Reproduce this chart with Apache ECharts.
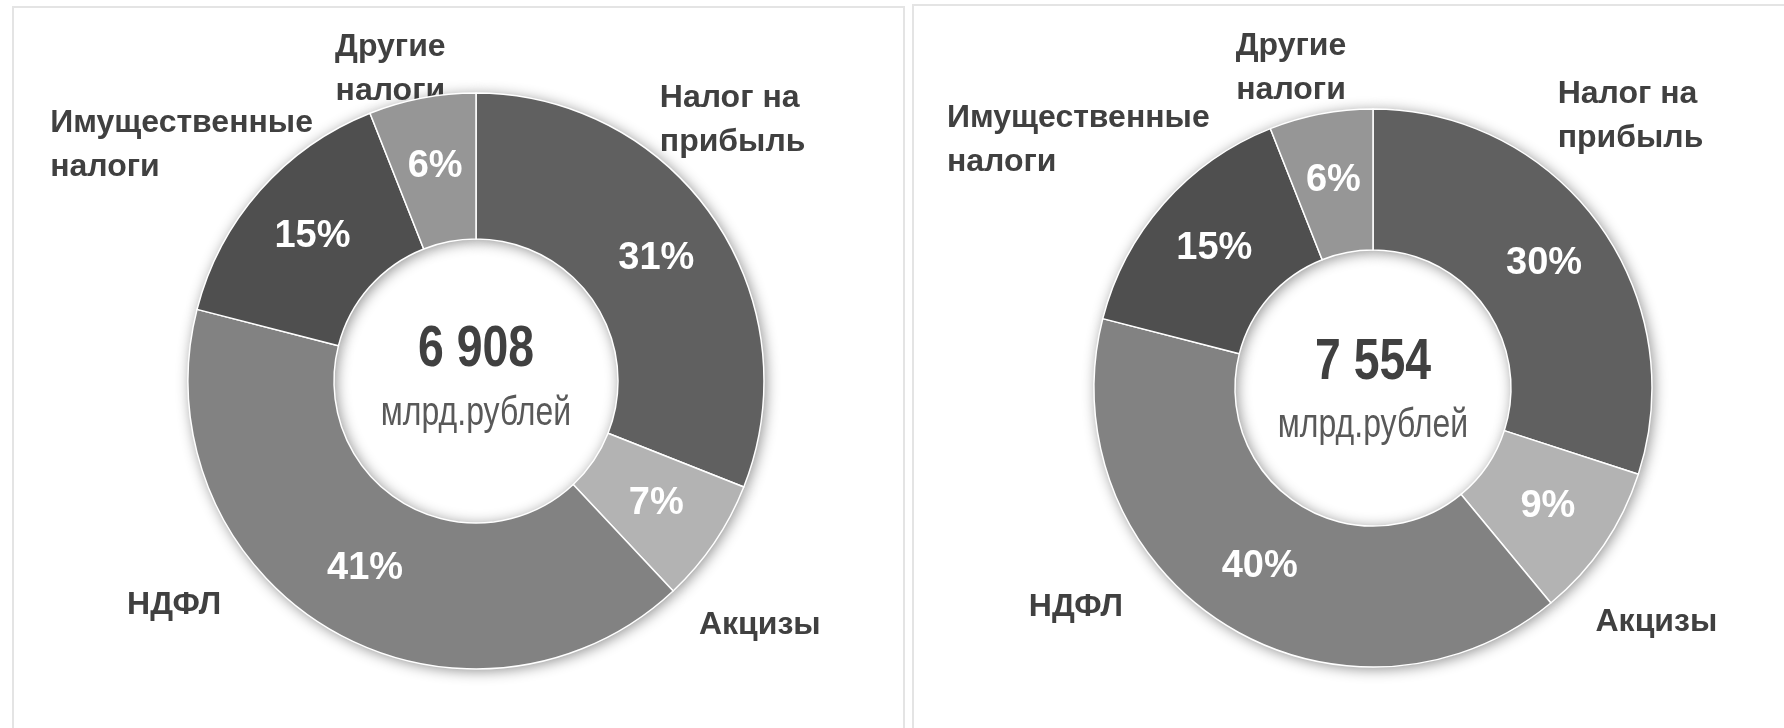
<!DOCTYPE html>
<html>
<head>
<meta charset="utf-8">
<script src="https://cdn.jsdelivr.net/npm/echarts@6/dist/echarts.min.js"></script>
<style>
  html, body { margin: 0; padding: 0; background: #ffffff; }
  #chart { width: 1784px; height: 728px; }
</style>
</head>
<body>
<div id="chart"></div>
<script>
// ---- data ----
const categories = ['Налог на\nприбыль', 'Акцизы', 'НДФЛ', 'Имущественные\nналоги', 'Другие\nналоги'];
const sharesLeft = [31, 7, 41, 15, 6];
const sharesRight = [30, 9, 40, 15, 6];
const totals = [6908, 7554];
const totalUnit = 'млрд.рублей';

// ---- styles / layout ----
const sliceColors = ['#606060', '#b3b3b3', '#828282', '#4f4f4f', '#969696'];
const nameAlign = ['left', 'center', 'center', 'left', 'center'];
const panels = [
  { center: [476, 381], rIn: 142, rOut: 288, shares: sharesLeft, total: totals[0],
    nameOffsets: [[-128, -49], [-28, 32], [-110, -100], [-143, 13], [-15, 58]],
    titleDy: [-31, 33] },
  { center: [1373, 388], rIn: 138, rOut: 279, shares: sharesRight, total: totals[1],
    nameOffsets: [[-113, -56], [-21, 27], [-100, -92], [-150, -4], [-13, 42]],
    titleDy: [-25, 38] }
];

function fmtTotal(n) { return String(n).replace(/\B(?=(\d{3})+(?!\d))/g, ' '); }

const chart = echarts.init(document.getElementById('chart'), null, { renderer: 'canvas' });

const series = [];
const graphics = [
  { type: 'rect', shape: { x: 13, y: 7, width: 891, height: 740 }, style: { fill: 'none', stroke: '#e4e4e4', lineWidth: 2 }, silent: true, z: -10 },
  { type: 'rect', shape: { x: 913, y: 5, width: 900, height: 740 }, style: { fill: 'none', stroke: '#e4e4e4', lineWidth: 2 }, silent: true, z: -10 }
];

panels.forEach((p, pi) => {
  const data = categories.map((c, i) => ({ name: c, value: p.shares[i], itemStyle: { color: sliceColors[i] } }));
  // shadow underlay
  series.push({
    type: 'pie', center: p.center, radius: [p.rIn, p.rOut], startAngle: 90, clockwise: true,
    silent: true, z: 1, label: { show: false }, labelLine: { show: false },
    itemStyle: { shadowBlur: 14, shadowColor: 'rgba(0,0,0,0.45)', shadowOffsetX: 2, shadowOffsetY: 2 },
    emphasis: { disabled: true },
    data: data
  });
  // main donut with percent labels
  series.push({
    type: 'pie', center: p.center, radius: [p.rIn, p.rOut], startAngle: 90, clockwise: true,
    silent: true, z: 2, avoidLabelOverlap: false,
    itemStyle: { borderColor: '#ffffff', borderWidth: 1.5 },
    label: { show: true, position: 'inside', formatter: '{c}%', color: '#ffffff',
      fontFamily: 'Liberation Sans, Arial, sans-serif', fontWeight: 'bold', fontSize: 38 },
    labelLine: { show: false },
    emphasis: { disabled: true },
    data: data
  });
  // transparent ring carrying category names
  series.push({
    type: 'pie', center: p.center, radius: [p.rOut, p.rOut + 172], startAngle: 90, clockwise: true,
    silent: true, z: 0, avoidLabelOverlap: false,
    itemStyle: { color: 'rgba(0,0,0,0)' },
    label: { show: true, position: 'inside', formatter: '{b}', color: '#404040',
      fontFamily: 'Liberation Sans, Arial, sans-serif', fontWeight: 'bold', fontSize: 32, lineHeight: 44 },
    labelLine: { show: false },
    labelLayout: function (params) {
      const i = params.dataIndex;
      return { dx: p.nameOffsets[i][0], dy: p.nameOffsets[i][1], align: nameAlign[i] };
    },
    emphasis: { disabled: true },
    data: categories.map((c, i) => ({ name: c, value: p.shares[i] }))
  });
  graphics.push({
    type: 'text', x: p.center[0], y: p.center[1] + p.titleDy[0], scaleX: 0.8, z: 10, silent: true,
    style: { text: fmtTotal(p.total), fill: '#404040', align: 'center', verticalAlign: 'middle',
      font: 'bold 58px "Liberation Sans", Arial, sans-serif' }
  });
  graphics.push({
    type: 'text', x: p.center[0], y: p.center[1] + p.titleDy[1], scaleX: 0.8, z: 10, silent: true,
    style: { text: totalUnit, fill: '#595959', align: 'center', verticalAlign: 'middle',
      font: 'normal 40px "Liberation Sans", Arial, sans-serif' }
  });
});

chart.setOption({
  backgroundColor: '#ffffff',
  animation: false,
  series: series,
  graphic: graphics
});
</script>
</body>
</html>
